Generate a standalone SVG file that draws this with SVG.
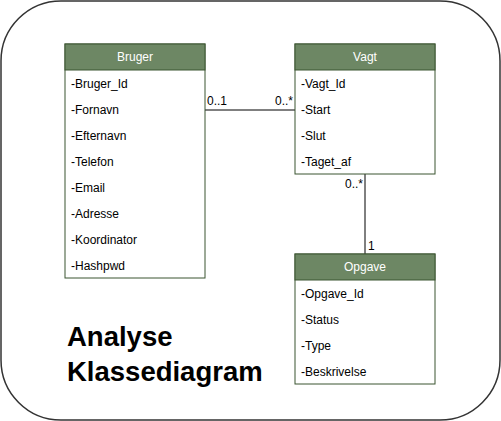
<svg xmlns="http://www.w3.org/2000/svg" width="501" height="421" viewBox="0 0 501 421">
<style>
text{font-family:"Liberation Sans",Arial,sans-serif;font-size:12px;fill:#000}
.hdr{fill:#6d8764;stroke:#3a5431;stroke-width:1}
.body{fill:#fff;stroke:#3a5431;stroke-width:1}
.ht{fill:#fff;text-anchor:middle}
.ln{stroke:#000;stroke-width:1;fill:none}
.title{font-size:27.5px;font-weight:bold}
</style>
<rect x="1" y="1" width="499" height="419" rx="60" ry="60" fill="#fff" stroke="#333" stroke-width="1.5"/>
<g id="connectors">
<line class="ln" x1="205" y1="110" x2="295" y2="110"/>
<text x="207" y="105">0..1</text>
<text x="293" y="105" text-anchor="end">0..*</text>
<line class="ln" x1="365" y1="174" x2="365" y2="254"/>
<text x="363" y="188" text-anchor="end">0..*</text>
<text x="368" y="250">1</text>
</g>
<g id="bruger">
<rect class="body" x="65" y="44" width="140" height="234"/>
<rect class="hdr" x="65" y="44" width="140" height="26"/>
<text class="ht" x="135" y="61">Bruger</text>
<text x="71" y="88">-Bruger_Id</text>
<text x="71" y="114">-Fornavn</text>
<text x="71" y="140">-Efternavn</text>
<text x="71" y="166">-Telefon</text>
<text x="71" y="192">-Email</text>
<text x="71" y="218">-Adresse</text>
<text x="71" y="244">-Koordinator</text>
<text x="71" y="270">-Hashpwd</text>
</g>
<g id="vagt">
<rect class="body" x="295" y="44" width="140" height="130"/>
<rect class="hdr" x="295" y="44" width="140" height="26"/>
<text class="ht" x="365" y="61">Vagt</text>
<text x="301" y="88">-Vagt_Id</text>
<text x="301" y="114">-Start</text>
<text x="301" y="140">-Slut</text>
<text x="301" y="166">-Taget_af</text>
</g>
<g id="opgave">
<rect class="body" x="295" y="254" width="140" height="130"/>
<rect class="hdr" x="295" y="254" width="140" height="26"/>
<text class="ht" x="365" y="271">Opgave</text>
<text x="301" y="298">-Opgave_Id</text>
<text x="301" y="324">-Status</text>
<text x="301" y="350">-Type</text>
<text x="301" y="376">-Beskrivelse</text>
</g>
<g id="title">
<text class="title" x="67" y="346">Analyse</text>
<text class="title" x="67" y="381">Klassediagram</text>
</g>
</svg>
